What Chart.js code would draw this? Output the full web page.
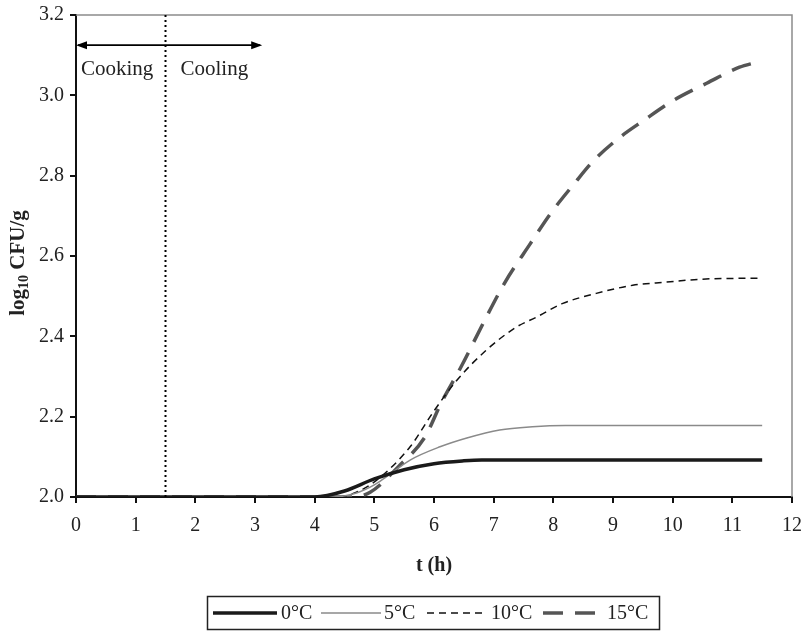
<!DOCTYPE html>
<html lang="en">
<head>
    <meta charset="UTF-8">
    <title>log10 CFU/g vs t</title>
    <style>
    body {
        margin: 0;
        background-color: #fff;
    }
    .chart-box {
        width: 806px;
        height: 631px;
    }
</style>
</head>
<body>
    <div class="chart-box">
        <canvas id="chart" width="806" height="631"></canvas>
    </div>

    <script src="https://cdn.jsdelivr.net/npm/chart.js"></script>
    <script>
        // time axis values (h) and log10 CFU/g values, one pair of arrays per curve
        var t0 = [0, 4.0, 4.5, 5.0, 5.5, 6.0, 6.5, 6.8, 11.5];
        var y0 = [2.0, 2.0, 2.015, 2.045, 2.068, 2.083, 2.09, 2.092, 2.092];

        var t5 = [0, 4.3, 4.7, 5.0, 5.2, 5.6, 6.1, 6.55, 7.1, 7.65, 8.2, 11.5];
        var y5 = [2.0, 2.0, 2.01, 2.03, 2.05, 2.092, 2.125, 2.147, 2.167, 2.175, 2.178, 2.178];

        var t10 = [0, 4.4, 4.7, 5.04, 5.6, 5.98, 6.38, 6.88, 7.38, 7.72, 8.16, 8.72, 9.33, 9.9, 10.45, 11.5];
        var y10 = [2.0, 2.0, 2.012, 2.042, 2.125, 2.21, 2.29, 2.366, 2.423, 2.448, 2.482, 2.507, 2.527, 2.535, 2.542, 2.545];

        var t15 = [0, 4.6, 4.93, 5.4, 5.85, 6.12, 6.45, 6.85, 7.18, 7.62, 7.95, 8.35, 8.68, 9.12, 9.52, 10.02, 10.57, 11.12, 11.4];
        var y15 = [2.0, 2.0, 2.012, 2.075, 2.15, 2.234, 2.323, 2.44, 2.532, 2.632, 2.705, 2.78, 2.838, 2.896, 2.938, 2.988, 3.03, 3.07, 3.082];

        var seriesNames = ['0°C', '5°C', '10°C', '15°C'];
        var phaseLabels = ['Cooking', 'Cooling'];
        var xTitle = 't (h)';
        var switchTime = 1.5;
        var arrowEnd = 3.12;
        var arrowLevel = 3.125;

        var FONT = '"Liberation Serif", "Times New Roman", serif';

        function toPoints(xs, ys) {
            var pts = [];
            for (var i = 0; i < xs.length; i++) {
                pts.push({x: xs[i], y: ys[i]});
            }
            return pts;
        }

        var lineStyles = [
            {color: '#1a1a1a', width: 3.5, dash: []},
            {color: '#8a8a8a', width: 1.5, dash: []},
            {color: '#111111', width: 1.5, dash: [7, 5]},
            {color: '#555555', width: 3.5, dash: [20, 12]}
        ];
        var allX = [t0, t5, t10, t15];
        var allY = [y0, y5, y10, y15];

        var datasets = seriesNames.map(function(name, i) {
            return {
                label: name,
                data: toPoints(allX[i], allY[i]),
                borderColor: lineStyles[i].color,
                borderWidth: lineStyles[i].width,
                borderDash: lineStyles[i].dash,
                pointRadius: 0,
                fill: false,
                cubicInterpolationMode: 'monotone'
            };
        });

        // Disegna cornice, annotazioni, titoli degli assi e legenda
        var extras = {
            id: 'extras',
            afterDraw: function(chart) {
                var ctx = chart.ctx;
                var a = chart.chartArea;
                var xs = chart.scales.x;
                var ys = chart.scales.y;
                ctx.save();

                // top and right frame in gray
                ctx.strokeStyle = '#8c8c8c';
                ctx.lineWidth = 1.5;
                ctx.beginPath();
                ctx.moveTo(a.left, a.top);
                ctx.lineTo(a.right, a.top);
                ctx.lineTo(a.right, a.bottom);
                ctx.stroke();

                // dotted line at cooking/cooling switch
                var xs1 = xs.getPixelForValue(switchTime);
                ctx.strokeStyle = '#000';
                ctx.lineWidth = 2;
                ctx.setLineDash([2, 3]);
                ctx.beginPath();
                ctx.moveTo(xs1, a.top);
                ctx.lineTo(xs1, a.bottom);
                ctx.stroke();
                ctx.setLineDash([]);

                // double arrow
                var ay = ys.getPixelForValue(arrowLevel);
                var ax0 = xs.getPixelForValue(0);
                var ax1 = xs.getPixelForValue(arrowEnd);
                ctx.lineWidth = 1.6;
                ctx.beginPath();
                ctx.moveTo(ax0 + 2, ay);
                ctx.lineTo(ax1 - 2, ay);
                ctx.stroke();
                ctx.fillStyle = '#000';
                ctx.beginPath();
                ctx.moveTo(ax0, ay);
                ctx.lineTo(ax0 + 11, ay - 4);
                ctx.lineTo(ax0 + 11, ay + 4);
                ctx.closePath();
                ctx.fill();
                ctx.beginPath();
                ctx.moveTo(ax1, ay);
                ctx.lineTo(ax1 - 11, ay - 4);
                ctx.lineTo(ax1 - 11, ay + 4);
                ctx.closePath();
                ctx.fill();

                ctx.font = '21px ' + FONT;
                ctx.fillStyle = '#222';
                ctx.textBaseline = 'middle';
                ctx.textAlign = 'left';
                ctx.fillText(phaseLabels[0], a.left + 5, ay + 24);
                ctx.fillText(phaseLabels[1], xs1 + 15, ay + 24);

                // x axis title
                ctx.font = 'bold 20px ' + FONT;
                ctx.textAlign = 'center';
                ctx.fillText(xTitle, (a.left + a.right) / 2, 566);

                // y axis title with subscript
                ctx.save();
                ctx.translate(19, (a.top + a.bottom) / 2 + 7);
                ctx.rotate(-Math.PI / 2);
                ctx.fillStyle = '#222';
                ctx.textBaseline = 'middle';
                var big = 'bold 21px ' + FONT;
                var small = 'bold 14px ' + FONT;
                ctx.font = big;
                var w1 = ctx.measureText('log').width;
                var w3 = ctx.measureText(' CFU/g').width;
                ctx.font = small;
                var w2 = ctx.measureText('10').width;
                var x = -(w1 + w2 + w3) / 2;
                ctx.font = big;
                ctx.textAlign = 'left';
                ctx.fillText('log', x, 0);
                ctx.font = small;
                ctx.fillText('10', x + w1, 5);
                ctx.font = big;
                ctx.fillText(' CFU/g', x + w1 + w2, 0);
                ctx.restore();

                // legend
                ctx.strokeStyle = '#222';
                ctx.lineWidth = 1.5;
                ctx.strokeRect(207.5, 596.5, 452, 33);
                var ly = 613;
                var sampleX = [213, 321, 427, 543];
                var sampleW = [64, 60, 60, 54];
                var textX = [281, 384, 491, 607];
                ctx.font = '20px ' + FONT;
                ctx.textBaseline = 'middle';
                ctx.textAlign = 'left';
                for (var i = 0; i < seriesNames.length; i++) {
                    var st = lineStyles[i];
                    ctx.strokeStyle = st.color;
                    ctx.lineWidth = st.width;
                    ctx.setLineDash(st.dash);
                    ctx.beginPath();
                    ctx.moveTo(sampleX[i], ly);
                    ctx.lineTo(sampleX[i] + sampleW[i], ly);
                    ctx.stroke();
                    ctx.setLineDash([]);
                    ctx.fillStyle = '#222';
                    ctx.fillText(seriesNames[i], textX[i], ly + 1);
                }
                ctx.restore();
            }
        };

        var ctx = document.getElementById('chart').getContext('2d');
        new Chart(ctx, {
            type: 'line',
            data: {datasets: datasets},
            options: {
                responsive: false,
                animation: false,
                layout: {padding: {top: 15, right: 14, left: 0, bottom: 0}},
                plugins: {
                    legend: {display: false},
                    tooltip: {enabled: false}
                },
                scales: {
                    x: {
                        type: 'linear',
                        min: 0,
                        max: 12,
                        afterFit: function(scale) {
                            scale.height = 134;
                            scale.paddingLeft = 0;
                            scale.paddingRight = 0;
                        },
                        border: {color: '#111', width: 2},
                        grid: {drawOnChartArea: false, tickLength: 6, color: '#111', lineWidth: 2},
                        ticks: {
                            stepSize: 1,
                            padding: 11,
                            color: '#222',
                            font: {family: FONT, size: 20}
                        }
                    },
                    y: {
                        min: 2.0,
                        max: 3.2,
                        afterFit: function(scale) {
                            scale.width = 76;
                            scale.paddingTop = 0;
                            scale.paddingBottom = 0;
                        },
                        border: {color: '#111', width: 2},
                        grid: {drawOnChartArea: false, tickLength: 6, color: '#111', lineWidth: 2},
                        ticks: {
                            stepSize: 0.2,
                            padding: 6,
                            color: '#222',
                            font: {family: FONT, size: 20},
                            callback: function(v) { return v.toFixed(1); }
                        }
                    }
                }
            },
            plugins: [extras]
        });
    </script>
</body>
</html>
